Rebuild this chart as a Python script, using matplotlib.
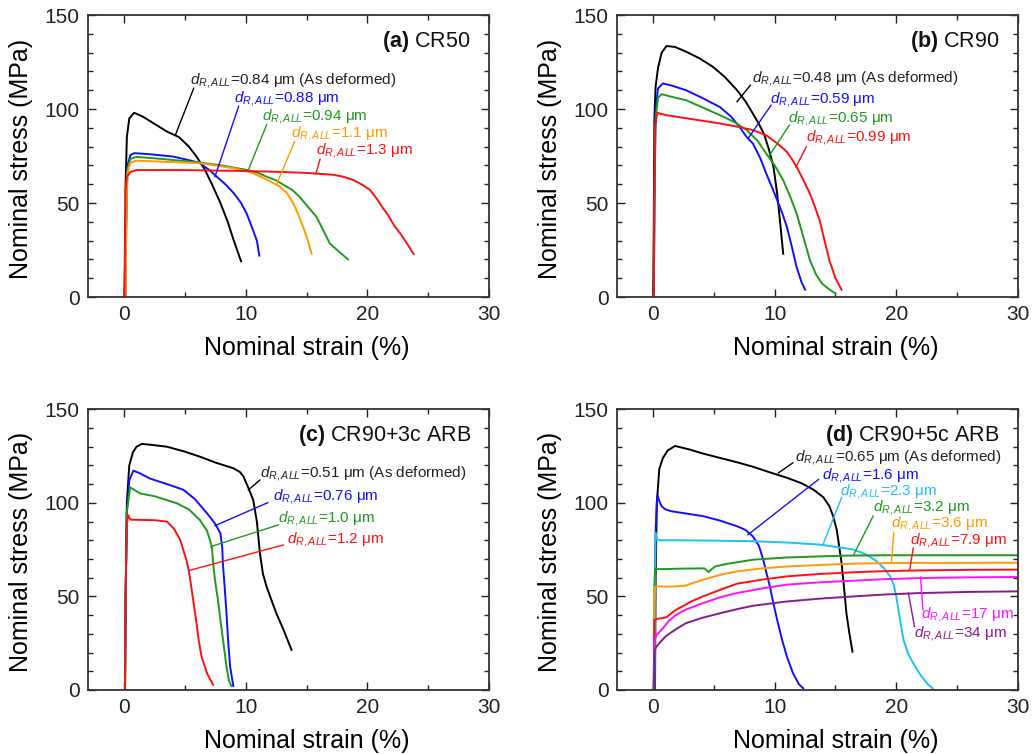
import matplotlib
matplotlib.use("Agg")
import matplotlib.pyplot as plt
from matplotlib.ticker import MultipleLocator

plt.rcParams['font.family'] = ['Liberation Sans', 'DejaVu Sans']
plt.rcParams['mathtext.fontset'] = 'custom'
plt.rcParams['mathtext.rm'] = 'Liberation Sans'
plt.rcParams['mathtext.it'] = 'Liberation Sans:italic'
plt.rcParams['mathtext.bf'] = 'Liberation Sans:bold'

# ---------------- data ----------------
# (a) CR50
A_084_strain = [0.0, 0.05, 0.1, 0.2, 0.4, 0.8, 1.5, 2.5, 3.5, 4.5, 5.3, 5.9, 6.6, 7.2, 7.9, 8.5, 9.0, 9.6]
A_084_stress = [0, 20, 60, 85, 95, 98, 96, 92, 88, 85, 80, 75, 68, 60, 50, 40, 30, 19]
A_088_strain = [0.1, 0.15, 0.25, 0.5, 0.8, 2, 4, 5.5, 6.2, 7, 7.6, 8.3, 9, 9.6, 10.05, 10.5, 10.9, 11.1]
A_088_stress = [0, 40, 70, 75.5, 76.5, 76, 74.7, 72.5, 71.2, 67.5, 64, 60, 55.2, 50, 44.5, 37, 30, 22]
A_094_strain = [0.1, 0.15, 0.25, 0.5, 1, 3, 6.2, 8, 10.05, 11, 11.7, 12.5, 13.1, 13.8, 14.4, 15.1, 15.8, 16.4, 16.9, 17.5, 18.4]
A_094_stress = [0, 40, 68, 73.5, 74.5, 73.5, 71.5, 70, 67.6, 66, 64, 62, 59.6, 57, 53.4, 48, 42.7, 35, 28.5, 25, 20]
A_11_strain = [0.1, 0.15, 0.25, 0.5, 1, 3, 6.2, 9, 10.5, 11.2, 12, 12.8, 13.4, 13.9, 14.3, 14.7, 15.1, 15.4]
A_11_stress = [0, 40, 66, 71.5, 72.5, 72, 71.2, 68.5, 66, 64, 61.5, 58.7, 55, 49.8, 44, 37.4, 30, 23]
A_13_strain = [0.0, 0.05, 0.1, 0.2, 0.5, 1, 5, 10, 13, 15, 17.2, 18.0, 18.8, 19.5, 20.2, 20.8, 21.3, 21.6, 22.2, 22.7, 23.3, 23.8]
A_13_stress = [0, 30, 58, 64, 66.5, 67.5, 67.5, 67, 66.5, 66, 65, 64, 62.3, 60, 57, 52, 47, 44.5, 38, 33.8, 28, 22.8]
A_LABELS = ['=0.84 \u03bcm (As deformed)', '=0.88 \u03bcm', '=0.94 \u03bcm', '=1.1 \u03bcm', '=1.3 \u03bcm']

# (b) CR90
B_048_strain = [0.0, 0.05, 0.1, 0.2, 0.4, 0.7, 1.1, 1.8, 2.7, 3.8, 4.9, 5.9, 6.9, 7.6, 8.2, 8.7, 9.1, 9.5, 9.9, 10.2, 10.4, 10.7]
B_048_stress = [0, 40, 95, 112, 122, 130, 133.5, 133, 130.5, 127, 122.5, 117, 110, 104, 97.6, 92, 87, 79, 69.2, 55, 42.6, 23]
B_059_strain = [0.05, 0.1, 0.2, 0.4, 0.8, 1.5, 2.7, 4, 5.5, 6.4, 7.1, 7.7, 8.2, 8.8, 9.3, 9.8, 10.2, 10.6, 11.0, 11.4, 11.8, 12.2, 12.5]
B_059_stress = [0, 50, 100, 111, 113.6, 112.5, 110, 106, 101, 96, 90.5, 85, 81.7, 74, 65.7, 58, 51.5, 45, 37.3, 27, 16, 8, 3.9]
B_065_strain = [0.05, 0.1, 0.2, 0.4, 0.7, 1.5, 2.7, 4, 5.5, 6.7, 7.7, 8.6, 9.3, 10.0, 10.7, 11.3, 11.8, 12.4, 12.9, 13.4, 13.9, 14.5, 15.0]
B_065_stress = [0, 50, 95, 106, 107.9, 106.5, 104.7, 101, 96.7, 93, 88.8, 83, 76.3, 70, 62.1, 53, 44.4, 31, 19.5, 12, 7.1, 4, 1.8]
B_099_strain = [0.05, 0.1, 0.15, 0.33, 0.6, 1.1, 3, 5.5, 7, 8.2, 9.3, 10.2, 10.7, 11.0, 11.4, 11.8, 12.3, 12.9, 13.3, 13.7, 14.1, 14.5, 15.0, 15.5]
B_099_stress = [0, 50, 90, 98, 97.5, 96.7, 94.8, 92.3, 90.5, 88.8, 86, 81.7, 79, 77.2, 73.5, 69.2, 63, 55, 48, 40.8, 30, 19.5, 10, 3.9]
B_LABELS = ['=0.48 \u03bcm (As deformed)', '=0.59 \u03bcm', '=0.65 \u03bcm', '=0.99 \u03bcm']

# (c) CR90+3c ARB
C_051_strain = [0.05, 0.1, 0.2, 0.4, 0.7, 1.0, 1.42, 2.2, 3.5, 5, 6.2, 7.5, 8.96, 9.5, 9.8, 10.2, 10.6, 10.9, 11.15, 11.4, 11.7, 12.1, 12.5, 13.1, 13.75]
C_051_stress = [0, 50, 100, 120, 127, 130, 131.5, 131, 130, 127.3, 124.7, 121.5, 118.5, 116.5, 114, 108, 101.5, 90, 73, 62, 55.2, 48, 41, 32, 21.4]
C_076_strain = [0.05, 0.1, 0.2, 0.4, 0.74, 1.2, 2.1, 3.5, 4.85, 5.8, 6.8, 7.45, 7.9, 8.05, 8.1, 8.25, 8.4, 8.55, 8.7, 8.96]
C_076_stress = [0, 50, 95, 112, 117.2, 116, 113, 110, 107, 102, 94.4, 89, 83.7, 76, 67.7, 55, 41, 25, 12.5, 2.1]
C_10_strain = [0.05, 0.1, 0.2, 0.47, 0.8, 1.3, 2.5, 4.3, 5.3, 6.2, 6.8, 7.2, 7.3, 7.45, 7.7, 7.9, 8.15, 8.4, 8.6, 8.8]
C_10_stress = [0, 50, 95, 108.3, 107, 105, 103.5, 99.8, 96.5, 90.9, 85, 76.6, 68, 58.8, 48, 37.4, 25, 12.5, 5, 2.1]
C_12_strain = [0.05, 0.1, 0.2, 0.3, 0.5, 1.3, 2.5, 3.5, 4.1, 4.6, 5.1, 5.3, 5.5, 5.9, 6.1, 6.35, 6.8, 7.3]
C_12_stress = [0, 50, 88, 93.5, 91, 90.9, 90.7, 90, 86, 80, 69.5, 63.8, 55.2, 37.4, 27, 17.8, 8.9, 2.7]
C_LABELS = ['=0.51 \u03bcm (As deformed)', '=0.76 \u03bcm', '=1.0 \u03bcm', '=1.2 \u03bcm']

# (d) CR90+5c ARB
D_065_strain = [0.15, 0.2, 0.3, 0.5, 0.8, 1.2, 1.8, 3, 4, 5.5, 7, 8.2, 9.5, 11, 12.2, 13.2, 14, 14.5, 14.8, 15.1, 15.3, 15.5, 15.7, 15.9, 16.15, 16.4]
D_065_stress = [0, 60, 100, 118, 124, 128, 130.4, 128.5, 126.5, 124, 121.5, 119.3, 116.5, 113.4, 110.5, 107, 103, 98.2, 93, 85.7, 77, 67.9, 55, 41, 30, 20.5]
D_16_strain = [0.1, 0.15, 0.2, 0.3, 0.36, 0.5, 0.69, 1.0, 1.5, 2.5, 4.1, 5.5, 6.9, 7.6, 8.2, 8.7, 9.06, 9.3, 9.6, 9.9, 10.2, 10.6, 11.0, 11.5, 12.0, 12.35]
D_16_stress = [0, 60, 85, 100, 104, 101, 98.2, 96.5, 95.5, 94.5, 92.9, 90.5, 87.5, 85.5, 82.1, 77, 69.6, 63, 55.4, 46, 37.5, 27, 17.9, 9, 3, 0.9]
D_23_strain = [0.1, 0.15, 0.2, 0.3, 0.6, 2, 5, 8.2, 11, 13.7, 15.5, 16.5, 17.5, 18.4, 19, 19.5, 19.8, 20.0, 20.3, 20.6, 21.0, 21.4, 22.0, 22.6, 23.0]
D_23_stress = [0, 60, 84, 80.5, 80, 80, 79.8, 79.5, 78.8, 77.7, 76, 75, 72.5, 68.75, 65, 60.7, 56, 50, 38, 26.8, 19, 14.3, 8, 3, 0.9]
D_32_strain = [0.05, 0.1, 0.15, 0.3, 1, 2, 3, 4.2, 4.4, 4.55, 4.8, 5.1, 6, 8.2, 11, 13.7, 16, 19.2, 22, 25, 30]
D_32_stress = [0, 55, 65, 64.6, 64.6, 64.8, 64.9, 65, 64, 63, 64.5, 66, 67.3, 69.6, 70.8, 71.4, 71.8, 72, 72, 72, 72]
D_36_strain = [0.05, 0.1, 0.15, 0.3, 1, 2, 2.7, 3.2, 4.1, 5.5, 6.9, 9, 11, 13.7, 16.5, 19, 22, 26, 30]
D_36_stress = [0, 45, 55, 55.4, 55.2, 55.4, 55.8, 57, 58.9, 61.5, 63.4, 65, 66, 66.8, 67.5, 67.8, 67.9, 67.9, 68]
D_79_strain = [0.05, 0.08, 0.1, 0.3, 0.7, 1.1, 1.5, 1.9, 2.5, 3.2, 4.1, 5.5, 6.9, 9, 11, 13.7, 16.5, 19, 22, 26, 30]
D_79_stress = [0, 30, 37.5, 38, 38.3, 38.9, 41, 42.9, 45, 47.5, 50, 53.5, 56.8, 59, 60.7, 62, 62.9, 63.5, 63.9, 64.2, 64.3]
D_17_strain = [0.05, 0.08, 0.1, 0.3, 0.8, 1.3, 1.9, 2.7, 4.1, 5.5, 6.9, 9, 11, 13.7, 16.5, 19, 22, 26, 30]
D_17_stress = [0, 22, 27, 29.5, 33, 37, 40.2, 43, 46.4, 49.5, 51.8, 54.3, 56.3, 57.5, 58.4, 59.2, 59.8, 60.2, 60.4]
D_34_strain = [0.05, 0.08, 0.1, 0.2, 0.5, 1.0, 1.4, 2, 2.7, 4, 5.5, 6.9, 8.2, 11, 13.7, 16.5, 19, 22, 26, 30]
D_34_stress = [0, 16, 20.5, 22.5, 25, 28.5, 30.4, 33, 35.7, 38.5, 41, 43.2, 45, 47.3, 48.8, 50, 51, 51.8, 52.4, 52.7]
D_LABELS = ['=0.65 \u03bcm (As deformed)', '=1.6 \u03bcm', '=2.3 \u03bcm', '=3.2 \u03bcm',
            '=3.6 \u03bcm', '=7.9 \u03bcm', '=17 \u03bcm', '=34 \u03bcm']

PANEL_TITLES = ['(a)', '(b)', '(c)', '(d)']
PANEL_NAMES = ['CR50', 'CR90', 'CR90+3c ARB', 'CR90+5c ARB']
X_TICKS = [0, 10, 20, 30]
Y_TICKS = [0, 50, 100, 150]

# ---------------- styles / layout ----------------
BLACK = '#000000'
BLUE = '#1010ff'
GREEN = '#1f9a1f'
ORANGE = '#ff9a00'
RED = '#ff1010'
CYAN = '#1ec2f0'
MAGENTA = '#ff10ff'
PURPLE = '#8a1a8a'

panels = [
    dict(rect=[0.0849, 0.6061, 0.3871, 0.3740],
         curves=[(A_084_strain, A_084_stress, BLACK), (A_088_strain, A_088_stress, BLUE),
                 (A_094_strain, A_094_stress, GREEN), (A_11_strain, A_11_stress, ORANGE),
                 (A_13_strain, A_13_stress, RED)],
         labels=A_LABELS,
         # text position (x, y center), leader start, leader end
         ann=[((5.4, 115.0), (5.7, 111.0), (4.2, 86.3)),
              ((9.0, 105.5), (9.4, 101.4), (7.45, 64.0)),
              ((11.3, 96.0), (11.7, 91.6), (10.2, 67.6)),
              ((13.7, 87.2), (14.0, 82.7), (12.5, 59.6)),
              ((15.8, 77.8), (16.1, 73.3), (15.75, 65.5))]),
    dict(rect=[0.5953, 0.6061, 0.3871, 0.3740],
         curves=[(B_048_strain, B_048_stress, BLACK), (B_059_strain, B_059_stress, BLUE),
                 (B_065_strain, B_065_stress, GREEN), (B_099_strain, B_099_stress, RED)],
         labels=B_LABELS,
         ann=[((8.1, 116.0), (8.0, 112.7), (6.9, 103.9)),
              ((9.6, 105.3), (9.7, 102.0), (7.8, 84.3)),
              ((11.1, 95.0), (11.2, 91.4), (9.5, 74.6)),
              ((12.6, 84.9), (12.6, 79.9), (11.75, 69.2))]),
    dict(rect=[0.0849, 0.0849, 0.3871, 0.3723],
         curves=[(C_051_strain, C_051_stress, BLACK), (C_076_strain, C_076_stress, BLUE),
                 (C_10_strain, C_10_stress, GREEN), (C_12_strain, C_12_stress, RED)],
         labels=C_LABELS,
         ann=[((11.15, 115.8), (11.15, 112.2), (10.2, 106.9)),
              ((12.2, 103.3), (11.8, 100.1), (7.45, 87.8)),
              ((12.66, 91.7), (12.66, 88.2), (7.1, 76.6)),
              ((13.4, 80.5), (13.07, 77.5), (5.3, 63.8))]),
    dict(rect=[0.5953, 0.0849, 0.3871, 0.3723],
         curves=[(D_065_strain, D_065_stress, BLACK), (D_16_strain, D_16_stress, BLUE),
                 (D_23_strain, D_23_stress, CYAN), (D_32_strain, D_32_stress, GREEN),
                 (D_36_strain, D_36_stress, ORANGE), (D_79_strain, D_79_stress, RED),
                 (D_17_strain, D_17_stress, MAGENTA), (D_34_strain, D_34_stress, PURPLE)],
         labels=D_LABELS,
         ann=[((11.67, 124.0), (11.5, 121.4), (10.3, 116.0)),
              ((13.9, 114.8), (13.6, 112.5), (7.8, 83.0)),
              ((15.4, 105.9), (15.5, 102.7), (14.0, 78.2)),
              ((18.1, 97.7), (18.1, 92.9), (16.5, 72.3)),
              ((19.6, 88.9), (19.8, 83.9), (19.6, 67.9)),
              ((21.1, 79.8), (21.4, 75.9), (21.1, 63.9)),
              ((22.0, 40.5), (22.2, 42.9), (22.0, 60.2)),
              ((21.5, 30.0), (21.5, 33.9), (21.0, 51.8))]),
]

fig = plt.figure(figsize=(10.36, 7.54), dpi=100)

for i, p in enumerate(panels):
    ax = fig.add_axes(p['rect'])
    for xs, ys, col in p['curves']:
        ax.plot(xs, ys, color=col, lw=1.4, solid_joinstyle='round')
    for lab, (txy, l0, l1), (_, _, col) in zip(p['labels'], p['ann'], p['curves']):
        tcol = '#222222' if col == BLACK else col
        ax.plot([l0[0], l1[0]], [l0[1], l1[1]], color=col, lw=1.0)
        ax.text(txy[0], txy[1], r'$d_{R,ALL}$' + lab, color=tcol, fontsize=11,
                ha='left', va='center')
    ax.text(0.955, 0.907, r'$\mathbf{' + PANEL_TITLES[i] + '}$ ' + PANEL_NAMES[i],
            transform=ax.transAxes, ha='right', va='center', fontsize=15.5, color='#111111')
    ax.set_xlim(-3, 30)
    ax.set_ylim(0, 150)
    ax.set_xticks(X_TICKS)
    ax.set_yticks(Y_TICKS)
    ax.xaxis.set_minor_locator(MultipleLocator(5))
    ax.yaxis.set_minor_locator(MultipleLocator(10))
    ax.tick_params(which='both', direction='in', top=True, right=True, width=1.0,
                   labelsize=15, colors='#222222')
    ax.tick_params(which='major', length=6, pad=6)
    ax.tick_params(which='minor', length=3.5)
    for s in ax.spines.values():
        s.set_linewidth(1.3)
        s.set_color('#333333')
    ax.set_xlabel('Nominal strain (%)', fontsize=18)
    ax.set_ylabel('Nominal stress (MPa)', fontsize=18)
    ax.xaxis.set_label_coords(0.545, -0.14)
    ax.yaxis.set_label_coords(-0.137, 0.49)

fig.savefig('out.png', dpi=100)
